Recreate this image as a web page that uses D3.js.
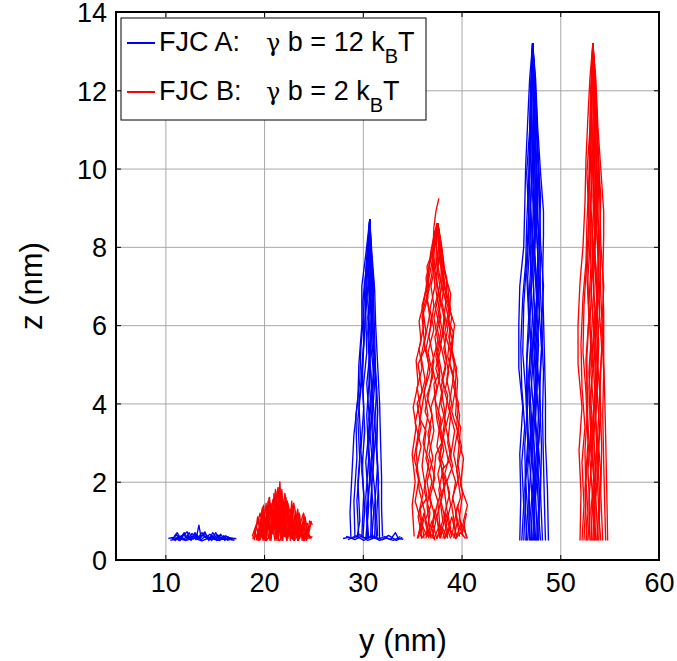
<!DOCTYPE html>
<html>
<head>
<meta charset="utf-8">
<script src="https://cdn.jsdelivr.net/npm/d3@7"></script>
<style>
  body { margin: 0; background: #fff; }
  text { font-family: "Liberation Sans", Arial, sans-serif; fill: #000; }
</style>
</head>
<body>
<div id="chart"></div>
<script>
const width = 677
const height = 661
const margin = {left: 116, right: 18, top: 12, bottom: 101}

// Axis ranges and ticks
const xDomain = [5, 60]
const yDomain = [0, 14]
const xTicks = [10, 20, 30, 40, 50, 60]
const yTicks = [0, 2, 4, 6, 8, 10, 12, 14]

// Legend entries
const seriesNames = ["FJC A:", "FJC B:"]
const seriesEnergy = ["12", "2"]
const seriesColors = ["#0000ff", "#ff0000"]

// Chain conformations, each one a list of [y, z] in nm
// FJC A, lowest force - flat on the surface
const blueFlat = [
  [[10.3,0.55],[10.8,0.58],[11.2,0.52],[11.6,0.62],[12.0,0.5],[12.4,0.6],[12.8,0.53],[13.2,0.63],[13.6,0.51],[14.0,0.6],[14.4,0.52],[14.8,0.62],[15.2,0.5],[15.6,0.58],[16.0,0.52],[16.5,0.57],[17.2,0.54]],
  [[10.7,0.52],[11.1,0.66],[11.5,0.5],[11.9,0.7],[12.3,0.53],[12.7,0.68],[13.1,0.52],[13.4,0.89],[13.6,0.6],[14.0,0.72],[14.4,0.5],[14.8,0.7],[15.2,0.55],[15.6,0.66],[16.0,0.5],[16.4,0.6]],
  [[11.0,0.6],[11.4,0.5],[11.8,0.62],[12.2,0.72],[12.6,0.5],[13.0,0.7],[13.5,0.55],[13.9,0.68],[14.3,0.6],[14.7,0.5],[15.1,0.7],[15.5,0.5],[15.9,0.62],[16.3,0.5],[16.8,0.56]],
  [[10.5,0.5],[11.3,0.55],[12.1,0.5],[12.9,0.56],[13.7,0.49],[14.5,0.57],[15.3,0.5],[16.1,0.55],[17.0,0.5]],
  [[10.9,0.6],[11.2,0.7],[11.5,0.56],[11.8,0.66],[12.1,0.57],[12.4,0.7],[12.7,0.58],[13.0,0.66],[13.3,0.56],[13.7,0.7],[14.1,0.57],[14.5,0.66],[14.9,0.56],[15.3,0.64],[15.7,0.55],[16.1,0.62],[16.6,0.55]],
  [[10.6,0.57],[11.0,0.5],[11.4,0.61],[11.8,0.52],[12.2,0.6],[12.6,0.55],[13.0,0.62],[13.4,0.54],[13.8,0.63],[14.2,0.55],[14.6,0.6],[15.0,0.52],[15.4,0.61],[15.8,0.54],[16.2,0.6],[16.7,0.52],[17.1,0.56]]
]

// FJC B, lowest force
const redFlat = [
  [[18.8,0.6],[19.2,0.9],[19.5,0.5],[19.8,1.3],[20.1,0.6],[20.4,1.5],[20.7,0.5],[21.0,1.7],[21.3,0.6],[21.6,2.0],[21.9,0.5],[22.2,1.6],[22.5,0.6],[22.8,1.5],[23.1,0.5],[23.4,1.3],[23.7,0.6],[24.0,1.1],[24.3,0.5],[24.6,1.0],[24.9,0.9]],
  [[19.0,0.5],[19.35,1.1],[19.65,0.6],[19.95,1.4],[20.25,0.5],[20.55,1.6],[20.85,0.7],[21.15,1.8],[21.45,0.5],[21.75,1.7],[22.05,0.6],[22.35,1.5],[22.65,0.5],[22.95,1.4],[23.25,0.6],[23.55,1.2],[23.85,0.5],[24.15,1.1],[24.45,0.6],[24.75,0.95]],
  [[18.9,0.55],[19.6,1.2],[20.0,0.7],[20.6,1.45],[21.1,0.8],[21.4,1.85],[21.8,0.9],[22.1,1.7],[22.6,1.0],[23.0,1.45],[23.5,0.8],[24.0,1.2],[24.4,0.7],[24.8,1.0]],
  [[19.1,0.7],[19.4,0.5],[19.7,1.0],[20.0,0.55],[20.3,1.2],[20.6,0.5],[20.9,1.3],[21.2,0.55],[21.5,1.5],[21.8,0.5],[22.1,1.3],[22.4,0.55],[22.7,1.2],[23.0,0.5],[23.3,1.0],[23.6,0.55],[23.9,0.9],[24.2,0.55],[24.5,0.8]],
  [[19.3,0.8],[19.7,0.6],[20.2,1.1],[20.5,0.9],[20.9,1.55],[21.3,1.0],[21.6,1.6],[22.0,1.1],[22.4,1.45],[22.9,0.9],[23.3,1.15],[23.8,0.8],[24.3,0.95]],
  [[18.8,0.55],[19.5,0.65],[20.2,0.5],[20.9,0.7],[21.6,0.5],[22.3,0.75],[23.0,0.5],[23.7,0.7],[24.4,0.55],[24.9,0.6]],
  [[19.2,0.5],[19.5,0.8],[19.9,0.6],[20.3,0.95],[20.7,0.6],[21.1,1.0],[21.5,0.7],[21.9,1.05],[22.3,0.7],[22.7,0.95],[23.1,0.65],[23.5,0.85],[23.9,0.6],[24.3,0.75],[24.7,0.55]],
  [[19.4,0.55],[19.6,1.05],[19.8,0.6],[20.0,1.25],[20.2,0.7],[20.4,1.35],[20.6,0.6],[20.8,1.45],[21.0,0.7],[21.2,1.6],[21.4,0.65],[21.6,1.55],[21.8,0.7],[22.0,1.5],[22.2,0.6],[22.4,1.4],[22.6,0.7],[22.8,1.3],[23.0,0.6],[23.2,1.25],[23.4,0.65],[23.6,1.15],[23.8,0.6],[24.0,1.0],[24.2,0.6],[24.4,0.95]],
  [[19.6,0.5],[19.9,0.85],[20.1,0.5],[20.5,1.05],[20.7,0.55],[21.0,1.2],[21.3,0.5],[21.5,1.25],[21.7,0.55],[22.0,1.2],[22.3,0.5],[22.5,1.1],[22.8,0.55],[23.1,1.05],[23.4,0.5],[23.7,0.95],[24.0,0.5],[24.3,0.85],[24.6,0.55]],
  [[20.3,0.8],[20.6,1.3],[20.9,0.9],[21.1,1.45],[21.3,0.95],[21.5,1.75],[21.7,1.0],[21.9,1.55],[22.1,0.95],[22.3,1.5],[22.5,0.9],[22.7,1.3],[22.9,0.85],[23.2,1.15]],
  [[19.0,0.75],[19.3,0.55],[19.6,0.9],[19.9,0.5],[20.2,0.9],[20.5,0.55],[20.8,0.95],[21.1,0.5],[21.4,1.0],[21.7,0.55],[22.0,0.95],[22.3,0.5],[22.6,0.9],[22.9,0.55],[23.2,0.9],[23.5,0.5],[23.8,0.8],[24.1,0.5],[24.4,0.7],[24.8,0.55]],
  [[21.0,1.1],[21.2,1.75],[21.35,1.2],[21.5,1.85],[21.65,1.3],[21.8,1.8],[21.95,1.2],[22.1,1.5]],
  [[19.7,1.1],[19.85,1.35],[20.0,0.95],[20.2,1.45],[20.35,1.0],[20.5,1.6]]
]

// FJC A, middle force
const blueMid = [
  [[28.8,0.55],[28.7,1.2],[28.9,2.2],[29.1,3.2],[29.5,4.1],[29.6,5.0],[29.9,6.0],[29.9,7.0],[30.3,7.8],[30.7,8.7]],
  [[32.0,0.6],[31.9,1.3],[31.9,2.1],[31.8,3.0],[31.7,4.0],[31.5,5.0],[31.3,6.0],[31.2,6.9],[30.9,7.9],[30.7,8.7]],
  [[29.6,0.55],[29.4,1.5],[29.7,2.5],[29.5,3.6],[29.9,4.6],[30.1,5.6],[30.0,6.6],[30.4,7.6],[30.7,8.7]],
  [[31.4,0.55],[31.2,1.4],[31.5,2.4],[31.2,3.4],[31.4,4.4],[31.1,5.4],[31.0,6.4],[30.9,7.4],[30.7,8.7]],
  [[30.5,0.55],[30.3,1.6],[30.6,2.6],[30.4,3.7],[30.7,4.8],[30.5,5.8],[30.8,6.8],[30.6,7.8],[30.7,8.7]],
  [[30.0,0.55],[30.2,1.3],[29.9,2.3],[30.2,3.3],[30.0,4.3],[30.4,5.3],[30.3,6.3],[30.6,7.3],[30.7,8.7]],
  [[31.0,0.55],[30.8,1.5],[31.1,2.5],[30.9,3.5],[31.2,4.5],[30.8,5.5],[31.0,6.5],[30.8,7.5],[30.7,8.7]],
  [[29.2,0.6],[29.1,1.5],[29.4,2.6],[29.3,3.7],[29.7,4.6],[29.8,5.4],[30.1,6.4],[30.3,7.4],[30.7,8.7]],
  [[31.7,0.55],[31.6,1.7],[31.4,2.8],[31.5,3.8],[31.2,4.9],[31.0,6.0],[31.1,7.1],[30.8,8.0],[30.7,8.7]],
  [[30.3,0.55],[30.6,1.4],[30.3,2.5],[30.7,3.5],[30.4,4.5],[30.8,5.5],[30.5,6.6],[30.7,7.6],[30.7,8.7]],
  [[30.8,0.55],[30.9,1.8],[30.6,2.9],[31.0,4.0],[30.7,5.1],[30.9,6.2],[30.6,7.2],[30.7,8.7]],
  [[30.6,0.55],[30.4,1.2],[30.7,2.0],[30.5,3.0],[30.8,3.9],[30.6,4.9],[30.9,5.9],[30.7,6.9],[30.8,7.8],[30.7,8.7]],
  [[31.2,0.55],[31.3,1.5],[31.0,2.3],[31.3,3.2],[31.0,4.2],[31.2,5.2],[30.9,6.1],[31.0,7.0],[30.8,7.9],[30.7,8.7]],
  [[29.9,0.6],[30.1,1.7],[29.8,2.8],[30.1,3.9],[29.9,4.9],[30.2,5.9],[30.3,6.9],[30.5,7.8],[30.7,8.7]],
  [[30.4,0.55],[30.6,1.8],[30.9,2.7],[30.6,3.6],[30.9,4.4],[30.7,5.3],[30.5,6.2],[30.8,7.0],[30.6,7.9],[30.7,8.7]],
  [[31.5,0.6],[31.4,1.1],[31.6,2.0],[31.4,2.9],[31.5,3.9],[31.3,4.8],[31.2,5.7],[31.1,6.6],[30.9,7.6],[30.7,8.7]],
  [[29.4,0.55],[29.7,1.0],[29.5,2.0],[29.8,3.0],[29.6,4.0],[30.0,5.0],[30.2,6.0],[30.4,7.0],[30.6,7.9],[30.7,8.7]],
  [[30.9,0.55],[31.1,1.2],[30.8,2.1],[31.1,3.0],[30.9,4.1],[31.1,5.0],[30.8,6.0],[31.0,7.2],[30.7,8.7]],
  [[28.0,0.55],[28.6,0.58],[29.2,0.52],[29.8,0.6],[30.4,0.55],[31.0,0.62],[31.6,0.54],[32.2,0.6],[32.8,0.52],[33.3,0.7],[33.6,0.55],[34.1,0.53]],
  [[28.3,0.6],[29.0,0.55],[29.7,0.65],[30.5,0.5],[31.3,0.58],[32.0,0.52],[32.6,0.63],[33.4,0.5],[34.0,0.58]],
  [[28.5,0.52],[29.3,0.62],[30.1,0.5],[30.9,0.6],[31.7,0.5],[32.4,0.56],[33.1,0.5],[33.8,0.6]]
]

// FJC B, middle force
const redMid = [
  [[36.0,0.55],[35.6,1.1],[36.1,1.7],[35.4,2.3],[35.9,2.9],[35.3,3.5],[35.8,4.1],[36.3,4.6],[35.9,5.2],[36.4,5.8],[36.1,6.4],[36.7,6.9],[36.5,7.5],[37.1,7.9],[37.2,8.5],[37.4,8.9],[37.7,9.24]],
  [[40.5,0.55],[40.2,1.0],[40.6,1.4],[39.9,1.9],[40.2,2.6],[39.6,3.1],[39.8,3.7],[39.3,4.3],[39.5,4.9],[38.9,5.4],[39.3,6.0],[38.8,6.4],[38.6,7.0],[38.2,7.5],[37.9,8.1],[37.6,8.6]],
  [[35.2,0.6],[35.0,1.4],[35.3,2.0],[35.0,2.7],[35.4,3.4],[35.1,3.9],[35.6,4.5],[35.4,5.1],[35.9,5.6],[35.7,6.1],[36.2,6.6],[36.6,7.3],[36.9,7.9],[37.3,8.4],[37.6,8.6]],
  [[37.0,0.55],[37.4,1.0],[36.8,1.6],[37.3,2.1],[36.7,2.7],[37.2,3.3],[36.9,3.9],[37.5,4.4],[37.0,5.0],[37.6,5.6],[37.2,6.2],[37.7,6.8],[37.3,7.4],[37.7,8.0],[37.5,8.6]],
  [[38.6,0.55],[38.2,1.1],[38.8,1.7],[38.3,2.2],[38.9,2.8],[38.4,3.4],[39.0,4.0],[38.5,4.6],[38.9,5.3],[38.3,5.8],[38.7,6.4],[38.1,6.9],[38.2,7.6],[37.8,8.2],[37.6,8.6]],
  [[39.8,0.6],[39.4,1.2],[39.9,1.6],[39.5,2.3],[40.0,2.9],[39.5,3.4],[39.7,4.0],[39.1,4.5],[39.3,5.1],[38.7,5.7],[39.0,6.2],[38.4,6.8],[38.0,7.3],[37.8,8.0],[37.6,8.6]],
  [[36.4,0.55],[36.8,1.2],[36.2,1.8],[36.7,2.5],[36.1,3.0],[36.6,3.7],[36.2,4.3],[36.8,4.8],[36.4,5.4],[36.9,6.0],[36.5,6.7],[37.0,7.3],[37.2,7.9],[37.5,8.6]],
  [[37.8,0.55],[37.5,1.1],[38.0,1.6],[37.6,2.2],[38.2,2.8],[37.8,3.3],[38.3,3.8],[37.9,4.4],[38.4,4.9],[37.9,5.5],[38.3,6.1],[37.8,6.7],[38.1,7.3],[37.7,7.9],[37.6,8.6]],
  [[35.6,0.55],[35.9,1.0],[35.3,1.5],[35.7,2.1],[35.2,2.6],[35.6,3.2],[35.9,3.8],[35.5,4.4],[36.0,4.9],[35.7,5.4],[36.2,6.0],[36.0,6.5],[36.5,7.0],[36.8,7.6],[37.2,8.2],[37.6,8.6]],
  [[39.2,0.55],[39.6,1.0],[39.1,1.6],[39.7,2.1],[39.2,2.7],[39.6,3.3],[39.0,3.8],[39.4,4.4],[38.8,5.0],[39.1,5.6],[38.6,6.1],[38.9,6.4],[38.3,7.0],[38.0,7.7],[37.6,8.6]],
  [[38.1,0.55],[38.5,0.9],[37.9,1.5],[38.4,2.0],[37.7,2.6],[38.1,3.1],[37.6,3.7],[38.0,4.3],[37.4,4.9],[37.9,5.4],[37.5,6.0],[37.9,6.6],[37.4,7.2],[37.8,7.8],[37.6,8.6]],
  [[36.7,0.55],[36.3,1.0],[36.9,1.4],[36.5,2.0],[37.1,2.6],[36.6,3.2],[37.0,3.7],[36.5,4.2],[37.1,4.7],[36.6,5.3],[37.2,5.9],[36.8,6.4],[37.3,7.0],[37.1,7.7],[37.5,8.3],[37.6,8.6]],
  [[37.3,0.5],[37.0,0.8],[37.6,1.5],[37.1,1.9],[37.4,2.7],[38.0,3.0],[37.5,3.6],[37.2,4.5],[37.8,4.8],[37.3,5.7],[37.9,6.2],[37.4,6.9],[37.6,7.6],[37.4,8.2],[37.6,8.6]],
  [[38.3,0.6],[38.9,0.8],[38.5,1.3],[38.0,2.3],[38.7,2.5],[38.1,3.2],[38.6,4.2],[38.0,4.6],[38.5,5.1],[38.1,5.9],[38.4,6.6],[37.9,7.1],[38.0,7.9],[37.6,8.6]],
  [[36.2,0.55],[35.8,1.3],[36.5,1.6],[36.0,2.4],[36.4,3.3],[35.8,3.6],[36.3,4.4],[36.7,5.0],[36.2,5.5],[36.8,6.3],[36.4,6.8],[37.0,7.6],[37.3,8.3],[37.6,8.6]],
  [[39.5,0.55],[39.0,1.4],[39.4,2.0],[38.8,2.5],[39.3,3.3],[38.7,3.9],[39.2,4.7],[38.6,5.2],[38.9,5.9],[38.4,6.5],[38.5,7.2],[37.9,7.8],[37.6,8.6]],
  [[37.5,0.55],[38.1,1.0],[37.7,1.8],[38.2,2.4],[37.5,2.9],[37.9,3.6],[37.3,4.1],[37.8,4.7],[37.4,5.2],[37.9,5.8],[37.3,6.5],[37.8,7.0],[37.4,7.7],[37.6,8.6]],
  [[40.2,0.6],[39.7,0.9],[40.1,1.7],[39.6,2.5],[39.9,3.4],[39.4,3.7],[39.6,4.6],[39.0,5.3],[39.2,5.8],[38.7,6.1],[38.9,6.8],[38.3,7.3],[38.0,8.0],[37.6,8.6]],
  [[35.8,0.6],[36.3,1.2],[35.7,1.8],[35.4,2.8],[35.9,3.4],[35.5,4.0],[36.0,4.3],[35.6,5.0],[36.3,5.4],[36.0,6.2],[36.6,6.7],[36.4,7.2],[36.9,7.7],[37.3,8.1],[37.6,8.6]],
  [[38.9,0.55],[38.4,0.9],[38.9,1.4],[38.5,2.0],[39.1,2.4],[38.6,3.0],[38.9,3.7],[38.3,4.3],[38.7,4.8],[38.2,5.4],[38.6,5.9],[38.0,6.6],[38.3,7.1],[37.8,7.6],[37.6,8.6]],
  [[36.9,0.55],[36.5,1.4],[37.0,2.0],[36.4,2.6],[36.9,3.4],[36.3,3.8],[36.8,4.4],[37.2,5.1],[36.7,5.7],[37.2,6.5],[36.9,7.0],[37.3,7.5],[37.1,8.0],[37.5,8.6]],
  [[37.9,0.55],[37.6,1.5],[38.3,1.9],[37.8,2.6],[38.4,3.5],[37.9,4.0],[38.2,4.5],[37.6,5.3],[38.1,5.8],[37.6,6.4],[38.0,7.0],[37.6,7.5],[37.8,8.0],[37.6,8.6]],
  [[35.5,0.55],[36.0,0.9],[36.5,0.6],[37.0,1.0],[37.5,0.55],[38.0,0.85],[38.5,0.6],[39.0,1.1],[39.5,0.6],[40.0,0.95],[40.6,0.55]],
  [[35.6,0.6],[36.2,1.2],[36.8,0.6],[37.3,1.3],[37.9,0.6],[38.4,1.2],[39.0,0.6],[39.6,1.4],[40.1,0.7],[40.5,1.2]],
  [[35.9,0.55],[36.6,0.75],[37.2,0.55],[37.8,0.9],[38.3,0.55],[38.8,0.8],[39.4,0.55],[39.9,0.7],[40.4,0.55]]
]

// FJC A, highest force
const blueTall = [
  [[45.9,0.5],[46.0,1.6],[45.9,2.7],[46.2,3.9],[45.8,4.9],[45.8,6.0],[45.9,7.0],[46.3,8.0],[46.4,9.0],[46.5,10.1],[46.7,11.2],[46.9,12.3],[47.2,13.2]],
  [[48.8,0.5],[48.7,1.8],[48.5,3.0],[48.5,4.1],[48.4,5.2],[48.3,6.2],[48.2,7.1],[48.3,8.3],[48.3,8.9],[48.0,9.9],[47.7,11.1],[47.5,12.3],[47.2,13.2]],
  [[46.3,0.5],[46.5,1.7],[46.4,2.9],[46.7,4.0],[46.6,5.0],[46.9,6.1],[46.7,7.2],[47.0,8.4],[46.9,9.5],[47.0,10.6],[47.1,11.7],[47.2,12.6],[47.2,13.2]],
  [[47.5,0.5],[47.3,1.6],[47.6,2.8],[47.4,4.0],[47.7,5.1],[47.5,6.2],[47.8,7.3],[47.6,8.5],[47.7,9.6],[47.5,10.8],[47.4,11.9],[47.3,12.7],[47.2,13.2]],
  [[47.0,0.5],[47.2,1.4],[46.9,2.5],[47.1,3.6],[46.8,4.7],[47.1,5.8],[47.3,6.9],[47.1,8.0],[47.3,9.1],[47.2,10.3],[47.0,11.4],[47.1,12.5],[47.2,13.2]],
  [[48.2,0.5],[48.0,1.7],[48.1,2.9],[47.9,4.2],[48.1,5.4],[47.8,6.6],[48.0,7.6],[47.7,8.7],[47.8,9.8],[47.6,10.9],[47.5,11.8],[47.3,12.8],[47.2,13.2]],
  [[46.6,0.5],[46.4,1.8],[46.7,3.0],[46.5,4.3],[46.2,5.3],[46.3,6.5],[46.6,7.7],[46.8,8.8],[46.6,9.9],[46.9,11.0],[47.0,12.0],[47.2,13.2]],
  [[47.8,0.5],[47.9,1.5],[47.7,2.6],[48.0,3.7],[47.9,4.6],[48.2,5.7],[48.0,6.8],[47.9,8.1],[48.0,9.3],[47.7,10.4],[47.6,11.5],[47.4,12.4],[47.2,13.2]],
  [[46.9,0.5],[46.8,1.5],[47.1,2.6],[46.9,3.8],[47.2,4.9],[46.9,6.0],[47.1,7.1],[47.4,8.2],[47.2,9.3],[47.4,10.5],[47.3,11.6],[47.2,13.2]],
  [[48.5,0.5],[48.4,1.4],[48.3,2.5],[48.2,3.7],[48.3,4.8],[48.1,5.9],[48.3,7.0],[48.0,8.1],[47.9,9.2],[47.8,10.2],[47.6,11.3],[47.4,12.5],[47.2,13.2]],
  [[46.1,0.5],[46.3,1.4],[46.1,2.5],[46.4,3.4],[46.1,4.4],[46.0,5.5],[46.2,6.7],[46.5,7.6],[46.6,8.6],[46.8,9.7],[46.9,10.8],[47.0,12.0],[47.2,13.2]],
  [[47.3,0.5],[47.5,1.9],[47.3,3.1],[47.6,4.4],[47.4,5.5],[47.7,6.6],[47.4,7.8],[47.5,8.9],[47.4,10.0],[47.3,11.1],[47.4,12.2],[47.2,13.2]],
  [[47.1,0.5],[47.0,1.2],[47.3,2.2],[47.1,3.2],[47.4,4.3],[47.2,5.3],[47.4,6.4],[47.2,7.5],[47.4,8.6],[47.3,9.8],[47.2,11.0],[47.3,12.2],[47.2,13.2]],
  [[47.6,0.5],[47.8,1.3],[47.6,2.3],[47.9,3.3],[47.6,4.4],[47.8,5.5],[47.6,6.5],[47.8,7.6],[47.5,8.7],[47.6,9.8],[47.4,10.9],[47.3,12.0],[47.2,13.2]],
  [[46.7,0.5],[46.9,1.3],[46.7,2.3],[47.0,3.3],[46.8,4.4],[47.0,5.5],[46.8,6.5],[47.0,7.5],[46.9,8.6],[47.1,9.7],[47.0,10.8],[47.1,11.9],[47.2,13.2]],
  [[48.0,0.5],[47.8,1.2],[48.0,2.2],[47.7,3.2],[47.9,4.3],[47.6,5.3],[47.9,6.4],[47.7,7.4],[47.8,8.4],[47.6,9.4],[47.5,10.5],[47.4,11.6],[47.2,13.2]],
  [[47.4,0.5],[47.2,1.5],[47.5,2.4],[47.2,3.4],[47.5,4.5],[47.3,5.6],[47.6,6.7],[47.3,7.8],[47.5,8.8],[47.2,10.0],[47.4,11.2],[47.2,12.3],[47.2,13.2]],
  [[46.5,0.5],[46.7,1.2],[46.5,2.0],[46.8,3.0],[46.6,4.1],[46.6,5.2],[46.8,6.2],[46.6,7.3],[46.8,8.3],[46.8,9.3],[46.9,10.4],[47.0,11.5],[47.2,13.2]],
  [[47.7,0.5],[47.5,1.6],[47.8,2.6],[47.5,3.6],[47.7,4.7],[47.4,5.8],[47.7,6.8],[47.4,7.9],[47.6,9.0],[47.4,10.1],[47.4,11.3],[47.3,12.4],[47.2,13.2]],
  [[47.2,0.5],[47.4,1.7],[47.1,2.7],[47.3,3.8],[47.0,4.8],[47.3,5.9],[47.0,6.9],[47.2,8.0],[47.0,9.1],[47.2,10.2],[47.1,11.3],[47.2,13.2]]
]

// FJC B, highest force
const redTall = [
  [[52.0,0.5],[52.1,1.7],[51.9,2.8],[52.2,3.9],[51.8,5.0],[51.8,6.0],[52.0,7.1],[52.3,8.0],[52.5,9.1],[52.6,10.2],[52.8,11.3],[53.0,12.3],[53.3,13.2]],
  [[54.8,0.5],[54.7,1.9],[54.6,3.1],[54.5,4.2],[54.4,5.2],[54.4,6.3],[54.3,7.2],[54.4,8.3],[54.4,8.9],[54.1,10.0],[53.8,11.1],[53.6,12.3],[53.3,13.2]],
  [[52.4,0.5],[52.6,1.6],[52.5,2.8],[52.8,4.0],[52.6,5.1],[52.9,6.2],[52.8,7.2],[53.1,8.4],[53.0,9.5],[53.1,10.6],[53.2,11.7],[53.3,13.2]],
  [[53.6,0.5],[53.4,1.6],[53.7,2.8],[53.5,4.1],[53.8,5.1],[53.6,6.3],[53.9,7.3],[53.7,8.5],[53.8,9.6],[53.6,10.8],[53.5,11.9],[53.4,12.7],[53.3,13.2]],
  [[53.1,0.5],[53.3,1.5],[53.0,2.6],[53.2,3.7],[52.9,4.8],[53.2,5.9],[53.4,7.0],[53.2,8.1],[53.4,9.2],[53.3,10.3],[53.1,11.4],[53.2,12.5],[53.3,13.2]],
  [[54.3,0.5],[54.1,1.7],[54.2,2.9],[54.0,4.2],[54.2,5.4],[53.9,6.6],[54.1,7.6],[53.8,8.7],[53.9,9.8],[53.7,10.9],[53.6,11.8],[53.4,12.8],[53.3,13.2]],
  [[52.7,0.5],[52.5,1.8],[52.8,3.0],[52.6,4.3],[52.3,5.3],[52.4,6.5],[52.7,7.7],[52.9,8.8],[52.7,9.9],[53.0,11.0],[53.1,12.0],[53.3,13.2]],
  [[53.9,0.5],[54.0,1.5],[53.8,2.6],[54.1,3.7],[54.0,4.6],[54.3,5.7],[54.1,6.8],[54.0,8.1],[54.1,9.3],[53.8,10.4],[53.7,11.5],[53.5,12.4],[53.3,13.2]],
  [[53.0,0.5],[52.9,1.5],[53.2,2.6],[53.0,3.8],[53.3,4.9],[53.0,6.0],[53.2,7.1],[53.5,8.2],[53.3,9.3],[53.5,10.5],[53.4,11.6],[53.3,13.2]],
  [[54.6,0.5],[54.5,1.4],[54.4,2.5],[54.3,3.7],[54.4,4.8],[54.2,5.9],[54.4,7.0],[54.1,8.1],[54.0,9.2],[53.9,10.2],[53.7,11.3],[53.5,12.5],[53.3,13.2]],
  [[52.2,0.5],[52.4,1.4],[52.2,2.5],[52.5,3.4],[52.2,4.4],[52.1,5.5],[52.3,6.7],[52.6,7.6],[52.7,8.6],[52.9,9.7],[53.0,10.8],[53.1,12.0],[53.3,13.2]],
  [[53.4,0.5],[53.6,1.9],[53.4,3.1],[53.7,4.4],[53.5,5.5],[53.8,6.6],[53.5,7.8],[53.6,8.9],[53.5,10.0],[53.4,11.1],[53.5,12.2],[53.3,13.2]],
  [[53.2,0.5],[53.1,1.2],[53.4,2.2],[53.2,3.2],[53.5,4.3],[53.3,5.3],[53.5,6.4],[53.3,7.5],[53.5,8.6],[53.4,9.8],[53.3,11.0],[53.4,12.2],[53.3,13.2]],
  [[53.7,0.5],[53.9,1.3],[53.7,2.3],[54.0,3.3],[53.7,4.4],[53.9,5.5],[53.7,6.5],[53.9,7.6],[53.6,8.7],[53.7,9.8],[53.5,10.9],[53.4,12.0],[53.3,13.2]],
  [[52.8,0.5],[53.0,1.3],[52.8,2.3],[53.1,3.3],[52.9,4.4],[53.1,5.5],[52.9,6.5],[53.1,7.5],[53.0,8.6],[53.2,9.7],[53.1,10.8],[53.2,11.9],[53.3,13.2]],
  [[54.1,0.5],[53.9,1.2],[54.1,2.2],[53.8,3.2],[54.0,4.3],[53.7,5.3],[54.0,6.4],[53.8,7.4],[53.9,8.4],[53.7,9.4],[53.6,10.5],[53.5,11.6],[53.3,13.2]],
  [[53.5,0.5],[53.3,1.5],[53.6,2.4],[53.3,3.4],[53.6,4.5],[53.4,5.6],[53.7,6.7],[53.4,7.8],[53.6,8.8],[53.3,10.0],[53.5,11.2],[53.3,12.3],[53.3,13.2]],
  [[52.6,0.5],[52.8,1.2],[52.6,2.0],[52.9,3.0],[52.7,4.1],[52.7,5.2],[52.9,6.2],[52.7,7.3],[52.9,8.3],[52.9,9.3],[53.0,10.4],[53.1,11.5],[53.3,13.2]],
  [[53.8,0.5],[53.6,1.6],[53.9,2.6],[53.6,3.6],[53.8,4.7],[53.5,5.8],[53.8,6.8],[53.5,7.9],[53.7,9.0],[53.5,10.1],[53.5,11.3],[53.4,12.4],[53.3,13.2]],
  [[53.3,0.5],[53.5,1.7],[53.2,2.7],[53.4,3.8],[53.1,4.8],[53.4,5.9],[53.1,6.9],[53.3,8.0],[53.1,9.1],[53.3,10.2],[53.2,11.3],[53.3,13.2]]
]

// Group chains by series (A = blue, B = red)
const chainsA = [...blueFlat, ...blueMid, ...blueTall]
const chainsB = [...redFlat, ...redMid, ...redTall]

const svg = d3.select("#chart")
              .append("svg")
                .attr("width", width)
                .attr("height", height)

const xScale = d3.scaleLinear()
                 .domain(xDomain)
                 .range([margin.left, width - margin.right])

const yScale = d3.scaleLinear()
                 .domain(yDomain)
                 .range([height - margin.bottom, margin.top])

const plotW = width - margin.left - margin.right
const plotH = height - margin.top - margin.bottom

// --- Grid ---
svg.append("g")
   .attr("transform", `translate(0, ${height - margin.bottom})`)
   .call(d3.axisBottom(xScale).tickValues(xTicks).tickSize(-plotH).tickFormat(""))
   .call(g => g.select(".domain").remove())
   .call(g => g.selectAll("line").attr("stroke", "#a8a8a8").attr("stroke-width", 1))

svg.append("g")
   .attr("transform", `translate(${margin.left}, 0)`)
   .call(d3.axisLeft(yScale).tickValues(yTicks).tickSize(-plotW).tickFormat(""))
   .call(g => g.select(".domain").remove())
   .call(g => g.selectAll("line").attr("stroke", "#a8a8a8").attr("stroke-width", 1))

// --- Chains ---
const line = d3.line()
               .x(d => xScale(d[0]))
               .y(d => yScale(d[1]))

const drawChains = (chains, color) => {
  svg.append("g")
     .selectAll("path")
     .data(chains)
     .join("path")
       .attr("fill", "none")
       .attr("stroke", color)
       .attr("stroke-width", 1.35)
       .attr("stroke-linejoin", "round")
       .attr("d", line)
}
drawChains(chainsA, seriesColors[0])
drawChains(chainsB, seriesColors[1])

// --- Axes (ticks inside, box on) ---
const styleAxis = g => {
  g.select(".domain").remove()
  g.selectAll("line").attr("stroke", "#000").attr("stroke-width", 1)
  g.selectAll("text").style("font-size", "27px").attr("fill", "#000")
}

svg.append("g")
   .attr("transform", `translate(0, ${height - margin.bottom})`)
   .call(d3.axisBottom(xScale).tickValues(xTicks).tickSize(-5).tickPadding(12))
   .call(styleAxis)
   .call(g => g.selectAll("text").attr("dy", "0.75em"))

svg.append("g")
   .attr("transform", `translate(${margin.left}, 0)`)
   .call(d3.axisLeft(yScale).tickValues(yTicks).tickSize(-5).tickPadding(9))
   .call(styleAxis)
   .call(g => g.selectAll("text").attr("dy", "0.36em"))

svg.append("g")
   .attr("transform", `translate(0, ${margin.top})`)
   .call(d3.axisTop(xScale).tickValues(xTicks).tickSize(-5).tickFormat(""))
   .call(styleAxis)

svg.append("g")
   .attr("transform", `translate(${width - margin.right}, 0)`)
   .call(d3.axisRight(yScale).tickValues(yTicks).tickSize(-5).tickFormat(""))
   .call(styleAxis)

svg.append("rect")
   .attr("x", margin.left)
   .attr("y", margin.top)
   .attr("width", plotW)
   .attr("height", plotH)
   .attr("fill", "none")
   .attr("stroke", "#000")
   .attr("stroke-width", 2)

// Axis labels
svg.append("text")
   .attr("x", 403)
   .attr("y", 651)
   .attr("text-anchor", "middle")
   .style("font-size", "31px")
   .text("y (nm)")

svg.append("text")
   .attr("transform", `translate(42, ${(margin.top + height - margin.bottom) / 2}) rotate(-90)`)
   .attr("text-anchor", "middle")
   .style("font-size", "31px")
   .text("z (nm)")

// --- Legend ---
const legend = svg.append("g")

legend.append("rect")
      .attr("x", 121)
      .attr("y", 18)
      .attr("width", 305)
      .attr("height", 102)
      .attr("fill", "#fff")
      .attr("stroke", "#000")
      .attr("stroke-width", 1)

seriesNames.forEach((name, i) => {
  const cy = 43 + i * 49
  legend.append("line")
        .attr("x1", 127)
        .attr("x2", 155)
        .attr("y1", cy)
        .attr("y2", cy)
        .attr("stroke", seriesColors[i])
        .attr("stroke-width", 2)

  legend.append("text")
        .attr("x", 159)
        .attr("y", cy + 8)
        .style("font-size", "27px")
        .text(name)

  const t = legend.append("text")
                  .attr("x", 266)
                  .attr("y", cy + 8)
                  .style("font-size", "27px")
  t.append("tspan").style("font-family", "'DejaVu Serif', serif").style("font-size", "24px").text("γ")
  t.append("tspan").text(` b = ${seriesEnergy[i]} k`)
  t.append("tspan").attr("dy", 12).style("font-size", "20px").text("B")
  t.append("tspan").attr("dy", -12).text("T")
})
</script>
</body>
</html>
